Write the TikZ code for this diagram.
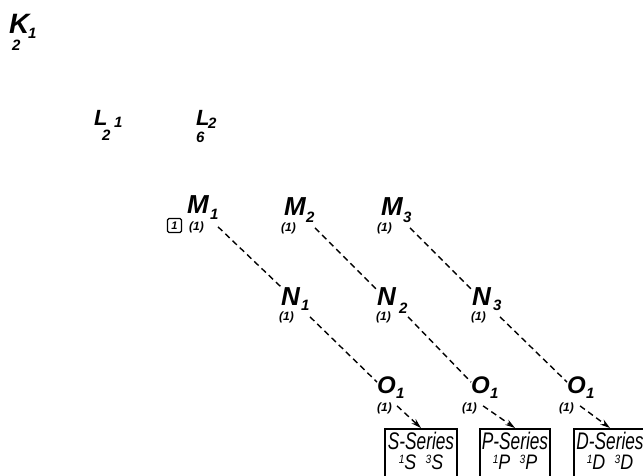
\documentclass[tikz,border=0pt]{standalone}
\usepackage{fontspec}
\usepackage{graphicx}
\setmainfont{Liberation Sans}
\usetikzlibrary{arrows.meta}
\newcommand\trmsup[2]{\raisebox{5.5pt}{\fontsize{12}{12}\selectfont #1}#2}
\begin{document}
\begin{tikzpicture}[x=1pt,y=-1pt,
  lvl/.style={inner sep=0pt, anchor=base west, font=\fontsize{26}{26}\selectfont\bfseries\itshape},
  lvlL/.style={lvl, font=\fontsize{22}{22}\selectfont\bfseries\itshape},
  lvlK/.style={lvl, font=\fontsize{28}{28}\selectfont\bfseries\itshape},
  lvlO/.style={lvl, font=\fontsize{24}{24}\selectfont\bfseries\itshape},
  idx/.style={inner sep=0pt, anchor=base west, font=\fontsize{15}{15}\selectfont\bfseries\itshape},
  mult/.style={inner sep=0pt, anchor=base west, font=\fontsize{12}{12}\selectfont\bfseries\itshape},
  dl/.style={line width=1.4pt, dash pattern=on 6pt off 4pt},
  da/.style={dl, -{Stealth[length=10pt,width=6pt]}},
  serbox/.style={draw, line width=1.6pt, inner sep=0pt, anchor=north, minimum width=72pt, minimum height=60pt},
  sertxt/.style={inner sep=0pt, anchor=base, font=\fontsize{24}{24}\selectfont\itshape},
  termtxt/.style={inner sep=0pt, anchor=base, font=\fontsize{21}{21}\selectfont\itshape},
]
\useasboundingbox (0,0) rectangle (643,475);
\clip (0,0) rectangle (643,475);

% K shell
\node[lvlK] (K1) at (9,33) {K};
\node[idx] (K1s) at (28,38) {1};
\node[idx] (K1c) at (12,50) {2};

% L shell
\node[lvlL] (L1) at (94,125) {L};
\node[idx] (L1s) at (114,127) {1};
\node[idx] (L1c) at (102,140) {2};
\node[lvlL] (L2) at (196,125) {L};
\node[idx] (L2s) at (208,128) {2};
\node[idx] (L2c) at (196,142) {6};

% M shell
\node[lvl] (M1) at (187,213) {M};
\node[idx] (M1s) at (210,219) {1};
\node[mult] (M1m) at (189,230) {(1)};
\node[draw, line width=1.3pt, minimum size=14pt, inner sep=0pt, rounded corners=1.5pt,
      font=\fontsize{11}{11}\selectfont\bfseries\itshape] (M1b) at (174.5,225.5) {1};
\node[lvl] (M2) at (284,215) {M};
\node[idx] (M2s) at (306,222) {2};
\node[mult] (M2m) at (281,231) {(1)};
\node[lvl] (M3) at (381,215) {M};
\node[idx] (M3s) at (403,222) {3};
\node[mult] (M3m) at (377,231) {(1)};

% N shell
\node[lvl] (N1) at (281,305) {N};
\node[idx] (N1s) at (301,310) {1};
\node[mult] (N1m) at (279,320) {(1)};
\node[lvl] (N2) at (377,305) {N};
\node[idx] (N2s) at (399,313) {2};
\node[mult] (N2m) at (376,320) {(1)};
\node[lvl] (N3) at (472,305) {N};
\node[idx] (N3s) at (493,310) {3};
\node[mult] (N3m) at (471,320) {(1)};

% O shell
\node[lvlO] (Oa) at (377,393) {O};
\node[idx] (Oas) at (396,398) {1};
\node[mult] (Oam) at (377,411) {(1)};
\node[lvlO] (Ob) at (471,393) {O};
\node[idx] (Obs) at (490,398) {1};
\node[mult] (Obm) at (462,411) {(1)};
\node[lvlO] (Oc) at (567,393) {O};
\node[idx] (Ocs) at (586,398) {1};
\node[mult] (Ocm) at (559,411) {(1)};

% series boxes
\node[serbox] (S) at (421,428) {};
\node[sertxt] (St) at ([yshift=-21pt]S.north) {\scalebox{0.72}[1]{S-Series}};
\node[termtxt] (Sl) at ([yshift=-41pt]S.north) {\scalebox{0.85}[1]{\trmsup{1}{S}\hspace{11pt}\trmsup{3}{S}}};
\node[serbox, minimum width=70pt] (P) at (515,428) {};
\node[sertxt] (Pt) at ([yshift=-21pt]P.north) {\scalebox{0.72}[1]{P-Series}};
\node[termtxt] (Pl) at ([yshift=-41pt]P.north) {\scalebox{0.85}[1]{\trmsup{1}{P}\hspace{11pt}\trmsup{3}{P}}};
\node[serbox] (D) at (610,428) {};
\node[sertxt] (Dt) at ([yshift=-21pt]D.north) {\scalebox{0.72}[1]{D-Series}};
\node[termtxt] (Dl) at ([yshift=-41pt]D.north) {\scalebox{0.85}[1]{\trmsup{1}{D}\hspace{11pt}\trmsup{3}{D}}};

% dashed chains
\draw[dl] ([xshift=14pt]M1m.east) -- (N1.north west);
\draw[dl] ([xshift=16pt]N1m.east) -- ([yshift=-6pt]Oa.north west);
\draw[da] ([xshift=5pt,yshift=2pt]Oam.east) -- (S.north);

\draw[dl] ([xshift=19pt]M2m.east) -- ([yshift=-3pt]N2.north west);
\draw[dl] ([xshift=17pt]N2m.east) -- ([yshift=-6pt]Ob.north west);
\draw[da] ([xshift=6pt,yshift=2pt]Obm.east) -- (P.north);

\draw[dl] ([xshift=18pt]M3m.east) -- ([yshift=-3pt]N3.north west);
\draw[dl] ([xshift=14pt]N3m.east) -- ([yshift=-6pt]Oc.north west);
\draw[da] ([xshift=6pt,yshift=2pt]Ocm.east) -- (D.north);
\end{tikzpicture}
\end{document}
